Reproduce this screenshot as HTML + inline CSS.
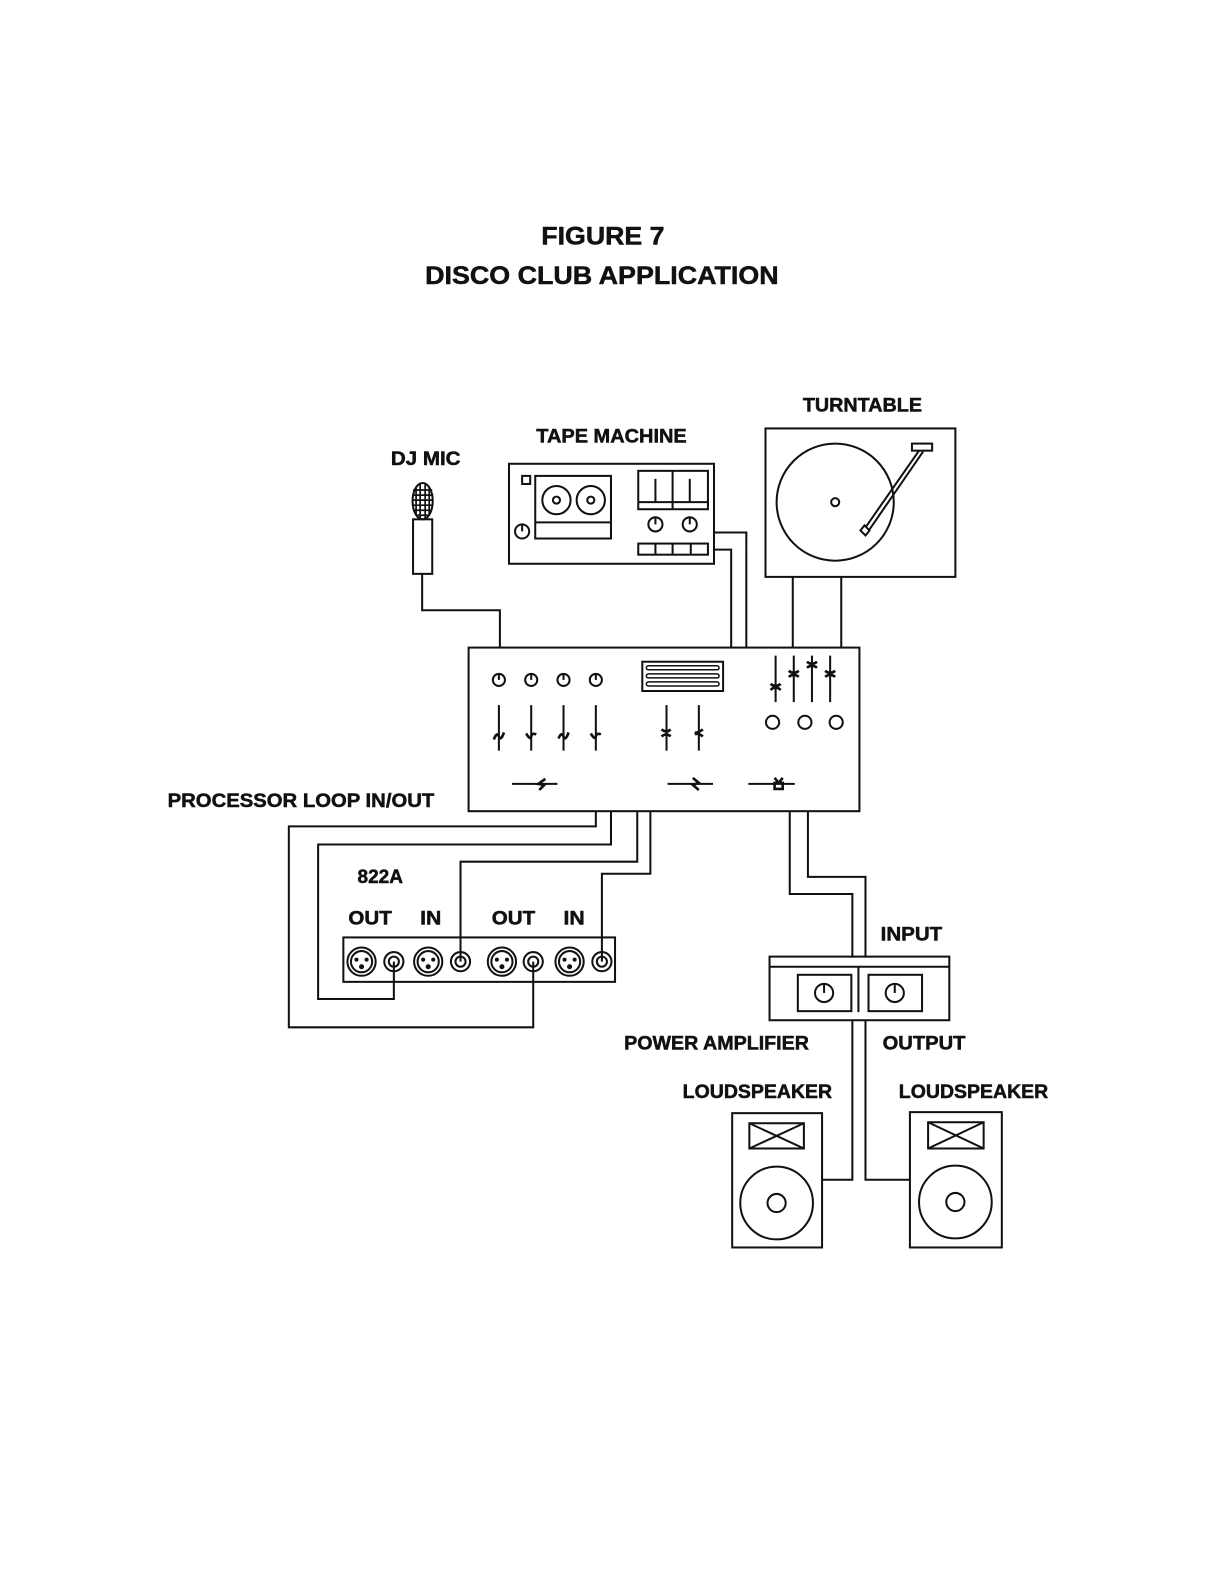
<!DOCTYPE html>
<html><head><meta charset="utf-8"><style>
html,body{margin:0;padding:0;background:#fff}
svg{display:block}
text{font-family:"Liberation Sans",sans-serif;font-weight:bold;fill:#111;stroke:#111;stroke-width:.5}
.l{font-size:19px}
.t{font-size:25px}
g.s *{fill:none;stroke:#111;stroke-width:2}
g.s .th{stroke-width:1.5}
g.s .k{stroke-width:2.600}
g.s .w{fill:#fff}
g.s .f{fill:#111;stroke:none}
</style></head><body>
<svg width="1224" height="1584" viewBox="0 0 1212 1568" xmlns="http://www.w3.org/2000/svg">
<rect width="1212" height="1568" fill="#fff"/>
<text class="t" x="536" y="242" textLength="122" lengthAdjust="spacingAndGlyphs">FIGURE 7</text>
<text class="t" x="421" y="281" textLength="350" lengthAdjust="spacingAndGlyphs">DISCO CLUB APPLICATION</text>
<text class="l" x="795" y="407" textLength="118" lengthAdjust="spacingAndGlyphs">TURNTABLE</text>
<text class="l" x="531" y="438" textLength="149" lengthAdjust="spacingAndGlyphs">TAPE MACHINE</text>
<text class="l" x="387" y="460" textLength="69" lengthAdjust="spacingAndGlyphs">DJ MIC</text>
<text class="l" x="166" y="799" textLength="264" lengthAdjust="spacingAndGlyphs">PROCESSOR LOOP IN/OUT</text>
<text class="l" x="354" y="874" textLength="45" lengthAdjust="spacingAndGlyphs">822A</text>
<text class="l" x="345" y="915" textLength="43" lengthAdjust="spacingAndGlyphs">OUT</text>
<text class="l" x="416" y="915" textLength="21" lengthAdjust="spacingAndGlyphs">IN</text>
<text class="l" x="487" y="915" textLength="43" lengthAdjust="spacingAndGlyphs">OUT</text>
<text class="l" x="558" y="915" textLength="21" lengthAdjust="spacingAndGlyphs">IN</text>
<text class="l" x="872" y="931" textLength="61" lengthAdjust="spacingAndGlyphs">INPUT</text>
<text class="l" x="618" y="1039" textLength="183" lengthAdjust="spacingAndGlyphs">POWER AMPLIFIER</text>
<text class="l" x="874" y="1039" textLength="82" lengthAdjust="spacingAndGlyphs">OUTPUT</text>
<text class="l" x="676" y="1087" textLength="148" lengthAdjust="spacingAndGlyphs">LOUDSPEAKER</text>
<text class="l" x="890" y="1087" textLength="148" lengthAdjust="spacingAndGlyphs">LOUDSPEAKER</text>

<g class="s">
<!-- wires -->
<path d="M418 568V604H495V641"/>
<path d="M707 527H739V641M707 544H724V641"/>
<path d="M785 571V641M833 571V641"/>
<path d="M590 803V818H286V1017H528V952"/>
<path d="M605 803V836H315V989H390V952"/>
<path d="M631 803V853H456V952"/>
<path d="M644 803V865H596V952"/>
<path d="M782 803V885H844V948"/>
<path d="M800 803V868H857V948"/>
<path d="M844 1010V1168H814M857 1010V1168H901"/>

<!-- mic -->
<rect x="409" y="514" width="19" height="54"/>
<ellipse cx="418.500" cy="496" rx="10" ry="18"/>
<path d="M412 482V510M416 479V513M421 479V513M425 482V510M409 485H428M409 490H429M409 495H429M409 500H429M410 505H427M412 510H425" style="stroke-width:1.700"/>

<!-- tape machine -->
<rect x="504" y="459" width="203" height="99"/>
<rect x="517" y="471" width="8" height="8"/>
<rect x="530" y="471" width="75" height="62"/>
<path d="M530 517H605"/>
<circle cx="551" cy="495" r="14"/><circle cx="551" cy="495" r="3.500"/>
<circle cx="585" cy="495" r="14"/><circle cx="585" cy="495" r="3.500"/>
<circle cx="517" cy="526" r="7"/><path d="M517 519V526"/>
<rect x="632" y="466" width="69" height="38"/>
<path d="M666 466V504M632 497H701M649 474V497M683 474V497"/>
<circle cx="649" cy="519" r="7"/><path d="M649 512V519"/>
<circle cx="683" cy="519" r="7"/><path d="M683 512V519"/>
<rect x="632" y="538" width="69" height="11"/>
<path d="M649 538V549M666 538V549M684 538V549"/>

<!-- turntable -->
<rect x="758" y="424" width="188" height="147"/>
<circle cx="827" cy="497" r="58"/>
<circle cx="827" cy="497" r="4"/>
<rect x="903" y="439" width="20" height="7"/>
<path d="M910 446L857 522M914 447L861 524"/>
<path class="w" d="M856 520L861 525L857 530L852 525Z"/>

<!-- mixer -->
<rect x="464" y="641" width="387" height="162"/>
<circle cx="494" cy="673" r="6"/><path d="M494 667V673"/>
<circle cx="526" cy="673" r="6"/><path d="M526 667V673"/>
<circle cx="558" cy="673" r="6"/><path d="M558 667V673"/>
<circle cx="590" cy="673" r="6"/><path d="M590 667V673"/>
<rect x="636" y="655" width="80" height="29"/>
<rect class="th" x="640" y="659" width="72" height="4" rx="2"/>
<rect class="th" x="640" y="667" width="72" height="4" rx="2"/>
<rect class="th" x="640" y="675" width="72" height="4" rx="2"/>
<path d="M494 698V743M526 698V743M558 698V743M590 698V743M660 698V743M692 698V743"/>
<path class="k" d="M489 732Q492 724 494 729T499 725M521 726Q525 733 526 729T531 727M553 731Q556 724 558 729T563 725M585 726Q589 733 590 729T595 727"/>
<path class="k" d="M655 722Q660 726 664 722M655 729Q660 725 664 729M696 722Q691 726 688 725M696 729Q691 725 688 727"/>
<path d="M507 776H552M661 776H706M741 776H787"/>
<path class="k" d="M540 771L533 776L539 777L534 782M686 770L692 775L686 777L692 782M767 770L771 775L775 770M767 781H775V775H767Z"/>
<path d="M768 649V695M786 649V695M804 649V695M822 649V695"/>
<path class="k" d="M763 677Q768 681 773 677M763 683Q768 678 773 683M781 664Q786 668 791 664M781 670Q786 666 791 670M799 661Q804 657 809 661M799 655Q804 659 809 655M817 664Q822 668 827 664M817 670Q822 666 827 670"/>
<circle cx="765" cy="715" r="6.500"/><circle cx="797" cy="715" r="6.500"/><circle cx="828" cy="715" r="6.500"/>

<!-- 822A -->
<rect x="340" y="928" width="269" height="44"/>
<g><circle cx="358" cy="952" r="14"/><circle cx="358" cy="952" r="10.500"/><circle class="f" cx="353" cy="950" r="2"/><circle class="f" cx="363" cy="950" r="2"/><circle class="f" cx="358" cy="957" r="2.500"/></g>
<g><circle cx="424" cy="952" r="14"/><circle cx="424" cy="952" r="10.500"/><circle class="f" cx="419" cy="950" r="2"/><circle class="f" cx="429" cy="950" r="2"/><circle class="f" cx="424" cy="957" r="2.500"/></g>
<g><circle cx="497" cy="952" r="14"/><circle cx="497" cy="952" r="10.500"/><circle class="f" cx="492" cy="950" r="2"/><circle class="f" cx="502" cy="950" r="2"/><circle class="f" cx="497" cy="957" r="2.500"/></g>
<g><circle cx="564" cy="952" r="14"/><circle cx="564" cy="952" r="10.500"/><circle class="f" cx="559" cy="950" r="2"/><circle class="f" cx="569" cy="950" r="2"/><circle class="f" cx="564" cy="957" r="2.500"/></g>
<circle cx="390" cy="952" r="9.500"/><circle cx="390" cy="952" r="5"/>
<circle cx="456" cy="952" r="9.500"/><circle cx="456" cy="952" r="5"/>
<circle cx="528" cy="952" r="9.500"/><circle cx="528" cy="952" r="5"/>
<circle cx="596" cy="952" r="9.500"/><circle cx="596" cy="952" r="5"/>

<!-- amplifier -->
<rect x="762" y="947" width="178" height="63"/>
<path d="M762 957H940M850 957V1002" />
<rect x="790" y="965" width="53" height="36"/>
<rect x="860" y="965" width="53" height="36"/>
<circle cx="816" cy="983" r="9"/><path d="M816 974V983"/>
<circle cx="886" cy="983" r="9"/><path d="M886 974V983"/>

<!-- speakers -->
<rect x="725" y="1102" width="89" height="133"/>
<rect x="742" y="1112" width="54" height="25"/>
<path d="M742 1112L796 1137M796 1112L742 1137"/>
<circle cx="769" cy="1191" r="36"/><circle cx="769" cy="1191" r="9"/>
<rect x="901" y="1101" width="91" height="134"/>
<rect x="919" y="1111" width="55" height="26"/>
<path d="M919 1111L974 1137M974 1111L919 1137"/>
<circle cx="946" cy="1190" r="36"/><circle cx="946" cy="1190" r="9"/>
</g>
</svg>
</body></html>
